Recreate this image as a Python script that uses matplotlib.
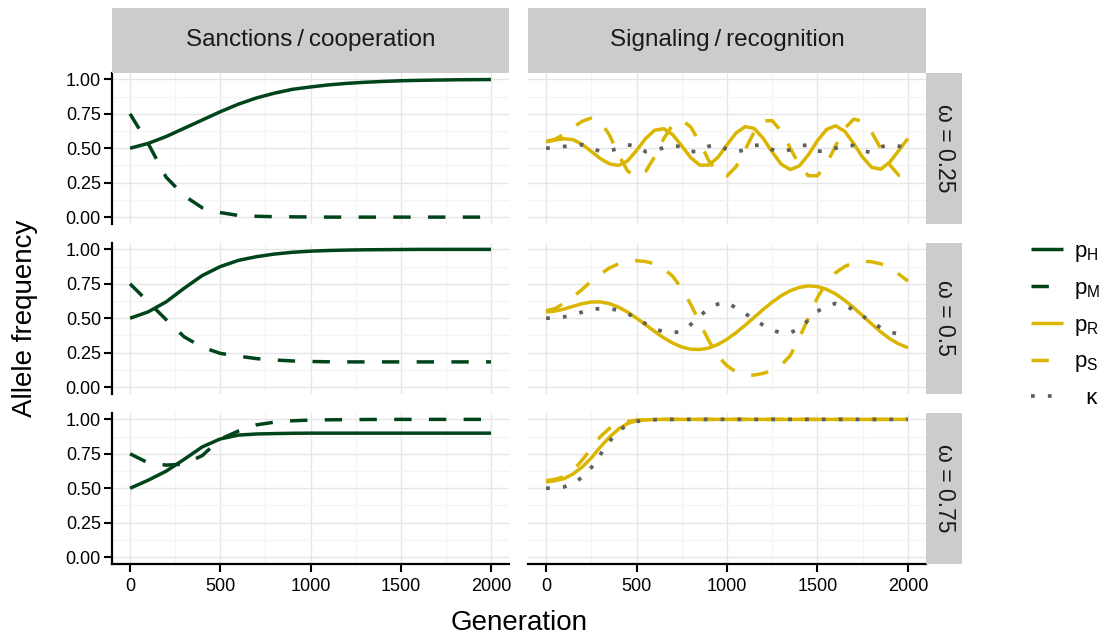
import matplotlib.pyplot as plt
from matplotlib.lines import Line2D
from matplotlib.ticker import MultipleLocator

plt.rcParams['font.family'] = ['Liberation Sans', 'DejaVu Sans']
plt.rcParams['mathtext.fontset'] = 'custom'
plt.rcParams['mathtext.rm'] = 'Liberation Sans'
plt.rcParams['mathtext.it'] = 'Liberation Sans:italic'

# --- data ---
columns = ['Sanctions\u2009/\u2009cooperation', 'Signaling\u2009/\u2009recognition']
omegas = ['0.25', '0.5', '0.75']

gen_left = list(range(0, 2001, 100))
gen_right = list(range(0, 2001, 50))

# sanctions / cooperation: host (p_H) and mutualist (p_M) allele frequencies
pH_025 = [0.500, 0.535, 0.585, 0.645, 0.705, 0.765, 0.820, 0.865, 0.900, 0.928, 0.945,
          0.960, 0.971, 0.979, 0.985, 0.990, 0.993, 0.995, 0.997, 0.998, 0.999]
pM_025 = [0.750, 0.535, 0.290, 0.155, 0.068, 0.033, 0.012, 0.006, 0.003, 0.002, 0.001,
          0.000, 0.000, 0.000, 0.000, 0.000, 0.000, 0.000, 0.000, 0.000, 0.000]
pH_050 = [0.500, 0.546, 0.619, 0.718, 0.810, 0.875, 0.920, 0.947, 0.966, 0.979, 0.987,
          0.992, 0.995, 0.997, 0.998, 0.999, 1.000, 1.000, 1.000, 1.000, 1.000]
pM_050 = [0.750, 0.620, 0.490, 0.365, 0.290, 0.245, 0.225, 0.207, 0.197, 0.190, 0.186,
          0.184, 0.183, 0.183, 0.183, 0.183, 0.183, 0.183, 0.183, 0.183, 0.183]
pH_075 = [0.500, 0.558, 0.624, 0.710, 0.800, 0.858, 0.886, 0.894, 0.897, 0.899, 0.900,
          0.900, 0.900, 0.900, 0.900, 0.900, 0.900, 0.900, 0.900, 0.900, 0.900]
pM_075 = [0.750, 0.685, 0.668, 0.675, 0.737, 0.857, 0.915, 0.960, 0.980, 0.990, 0.995,
          0.997, 0.998, 0.999, 1.000, 1.000, 1.000, 1.000, 1.000, 1.000, 1.000]

# signaling / recognition: p_R, p_S and kappa
pR_025 = [0.546, 0.560, 0.569, 0.562, 0.528, 0.477, 0.425, 0.387, 0.375, 0.408,
          0.484, 0.570, 0.631, 0.642, 0.598, 0.517, 0.431, 0.377, 0.378, 0.434,
          0.525, 0.611, 0.657, 0.644, 0.572, 0.472, 0.384, 0.345, 0.372, 0.453,
          0.555, 0.636, 0.663, 0.624, 0.535, 0.434, 0.361, 0.348, 0.399, 0.485,
          0.570]
pS_025 = [0.550, 0.565, 0.603, 0.652, 0.696, 0.719, 0.697, 0.596, 0.455, 0.336,
          0.290, 0.331, 0.438, 0.569, 0.671, 0.705, 0.654, 0.540, 0.409, 0.316,
          0.299, 0.366, 0.489, 0.618, 0.699, 0.700, 0.623, 0.500, 0.376, 0.300,
          0.301, 0.384, 0.517, 0.643, 0.711, 0.697, 0.616, 0.497, 0.379, 0.303,
          0.290]
kappa_025 = [0.500, 0.505, 0.513, 0.520, 0.525, 0.505, 0.475, 0.480, 0.500, 0.525,
             0.515, 0.475, 0.480, 0.505, 0.520, 0.510, 0.475, 0.480, 0.515, 0.525,
             0.490, 0.472, 0.490, 0.520, 0.525, 0.490, 0.472, 0.490, 0.520, 0.522,
             0.480, 0.475, 0.500, 0.522, 0.520, 0.480, 0.470, 0.510, 0.525, 0.515,
             0.500]
pR_050 = [0.546, 0.552, 0.567, 0.587, 0.606, 0.618, 0.619, 0.606, 0.581, 0.545,
          0.501, 0.453, 0.404, 0.358, 0.320, 0.291, 0.275, 0.273, 0.284, 0.310,
          0.348, 0.395, 0.449, 0.506, 0.564, 0.617, 0.664, 0.700, 0.724, 0.735,
          0.730, 0.710, 0.677, 0.631, 0.577, 0.518, 0.458, 0.401, 0.351, 0.313,
          0.286]
pS_050 = [0.555, 0.570, 0.610, 0.655, 0.710, 0.770, 0.820, 0.865, 0.895, 0.912,
          0.918, 0.912, 0.895, 0.860, 0.805, 0.715, 0.600, 0.465, 0.335, 0.225,
          0.155, 0.110, 0.090, 0.087, 0.100, 0.120, 0.160, 0.230, 0.360, 0.500,
          0.650, 0.760, 0.830, 0.875, 0.905, 0.915, 0.910, 0.895, 0.870, 0.820,
          0.770]
kappa_050 = [0.500, 0.503, 0.510, 0.525, 0.545, 0.565, 0.570, 0.568, 0.560, 0.535,
             0.500, 0.460, 0.425, 0.400, 0.395, 0.405, 0.455, 0.515, 0.575, 0.603,
             0.615, 0.575, 0.535, 0.490, 0.450, 0.415, 0.392, 0.395, 0.425, 0.487,
             0.550, 0.590, 0.607, 0.595, 0.560, 0.515, 0.475, 0.430, 0.400, 0.385,
             0.375]
pR_075 = [0.546, 0.555, 0.570, 0.605, 0.655, 0.720, 0.800, 0.870, 0.930, 0.970,
          0.990, 0.996, 0.999, 1.000, 1.000, 1.000, 1.000, 1.000, 1.000, 1.000,
          1.000, 1.000, 1.000, 1.000, 1.000, 1.000, 1.000, 1.000, 1.000, 1.000,
          1.000, 1.000, 1.000, 1.000, 1.000, 1.000, 1.000, 1.000, 1.000, 1.000,
          1.000]
pS_075 = [0.555, 0.565, 0.585, 0.630, 0.705, 0.790, 0.875, 0.935, 0.965, 0.985,
          0.995, 0.998, 1.000, 1.000, 1.000, 1.000, 1.000, 1.000, 1.000, 1.000,
          1.000, 1.000, 1.000, 1.000, 1.000, 1.000, 1.000, 1.000, 1.000, 1.000,
          1.000, 1.000, 1.000, 1.000, 1.000, 1.000, 1.000, 1.000, 1.000, 1.000,
          1.000]
kappa_075 = [0.500, 0.502, 0.510, 0.535, 0.580, 0.650, 0.745, 0.840, 0.915, 0.962,
             0.985, 0.995, 0.998, 1.000, 1.000, 1.000, 1.000, 1.000, 1.000, 1.000,
             1.000, 1.000, 1.000, 1.000, 1.000, 1.000, 1.000, 1.000, 1.000, 1.000,
             1.000, 1.000, 1.000, 1.000, 1.000, 1.000, 1.000, 1.000, 1.000, 1.000,
             1.000]

sanctions = [(pH_025, pM_025), (pH_050, pM_050), (pH_075, pM_075)]
signaling = [(pR_025, pS_025, kappa_025), (pR_050, pS_050, kappa_050),
             (pR_075, pS_075, kappa_075)]

y_ticks = [0, 0.25, 0.5, 0.75, 1.0]
y_labels = ['0.00', '0.25', '0.50', '0.75', '1.00']
x_ticks = [0, 500, 1000, 1500, 2000]

GREEN = '#00441b'
GOLD = '#dbb600'
GREY = '#5f5f5f'
STRIP = '#cccccc'
LW = 2.5
solid = dict(lw=LW, solid_capstyle='butt')
dashed = dict(lw=LW, ls=(0, (5, 5)), dash_capstyle='butt')
dotted = dict(lw=2.7, ls=(0, (1, 3.5)), dash_capstyle='butt')

# --- layout (pixel boxes) ---
W, H = 1100, 636
fig = plt.figure(figsize=(W / 100, H / 100), dpi=100)


def rect(x0, y0, x1, y1):
    return [x0 / W, 1 - y1 / H, (x1 - x0) / W, (y1 - y0) / H]


col_x = [(112, 509), (528, 926)]
row_y = [(72.5, 224), (242.5, 394), (412.5, 564)]

for r in range(3):
    for c in range(2):
        ax = fig.add_axes(rect(col_x[c][0], row_y[r][0], col_x[c][1], row_y[r][1]))
        ax.set_xlim(-100, 2100)
        ax.set_ylim(-0.05, 1.05)
        ax.set_xticks(x_ticks)
        ax.set_yticks(y_ticks)
        ax.xaxis.set_minor_locator(MultipleLocator(250))
        ax.yaxis.set_minor_locator(MultipleLocator(0.125))
        ax.grid(which='minor', color='#f4f4f4', lw=0.9)
        ax.grid(which='major', color='#e6e6e6', lw=1.0)
        ax.set_axisbelow(True)
        for s in ax.spines.values():
            s.set_visible(False)
        ax.tick_params(which='minor', length=0)
        ax.tick_params(which='major', length=6, width=1.5, color='black',
                       labelsize=13, labelcolor='black')
        ax.tick_params(axis='y', pad=2)
        ax.tick_params(axis='x', pad=4)

        if c == 0:
            ax.spines['left'].set_visible(True)
            ax.spines['left'].set_linewidth(1.6)
            ax.set_yticklabels(y_labels)
        else:
            ax.tick_params(axis='y', length=0, labelleft=False)
        if r == 2:
            ax.spines['bottom'].set_visible(True)
            ax.spines['bottom'].set_linewidth(1.6)
        else:
            ax.tick_params(axis='x', length=0, labelbottom=False)

        if c == 0:
            pH, pM = sanctions[r]
            ax.plot(gen_left, pH, color=GREEN, **solid)
            ax.plot(gen_left, pM, color=GREEN, **dashed)
        else:
            pR, pS, kap = signaling[r]
            ax.plot(gen_right, pR, color=GOLD, **solid)
            ax.plot(gen_right, pS, color=GOLD, **dashed)
            ax.plot(gen_right, kap, color=GREY, **dotted)

# facet strips
for c in range(2):
    sx = fig.add_axes(rect(col_x[c][0], 8, col_x[c][1], 72.5))
    sx.set_facecolor(STRIP)
    sx.set_xticks([])
    sx.set_yticks([])
    for s in sx.spines.values():
        s.set_visible(False)
    sx.text(0.5, 0.5, columns[c], ha='center', va='center', fontsize=17.5,
            color='#1a1a1a', transform=sx.transAxes)

for r in range(3):
    sy = fig.add_axes(rect(926, row_y[r][0], 962, row_y[r][1]))
    sy.set_facecolor(STRIP)
    sy.set_xticks([])
    sy.set_yticks([])
    for s in sy.spines.values():
        s.set_visible(False)
    sy.text(0.5, 0.5, 'ω = ' + omegas[r], ha='center', va='center', fontsize=16.5,
            rotation=-90, color='#1a1a1a', transform=sy.transAxes)

# axis titles
fig.text(25 / W, 1 - 318 / H, 'Allele frequency', rotation=90, ha='center',
         va='center', fontsize=20)
fig.text(519 / W, 1 - 623 / H, 'Generation', ha='center', va='center', fontsize=20)

# legend
handles = [
    Line2D([], [], color=GREEN, **solid),
    Line2D([], [], color=GREEN, **dashed),
    Line2D([], [], color=GOLD, **solid),
    Line2D([], [], color=GOLD, **dashed),
    Line2D([], [], color=GREY, **dotted),
]
labels = [r'$\mathrm{p_H}$', r'$\mathrm{p_M}$', r'$\mathrm{p_R}$',
          r'$\mathrm{p_S}$', '  κ']
fig.legend(handles, labels, loc='center left', bbox_to_anchor=(1022 / W, 1 - 325 / H),
           frameon=False, fontsize=16, handlelength=1.45, handletextpad=0.5,
           labelspacing=0.62, borderaxespad=0)

fig.savefig('out.png', dpi=100)
